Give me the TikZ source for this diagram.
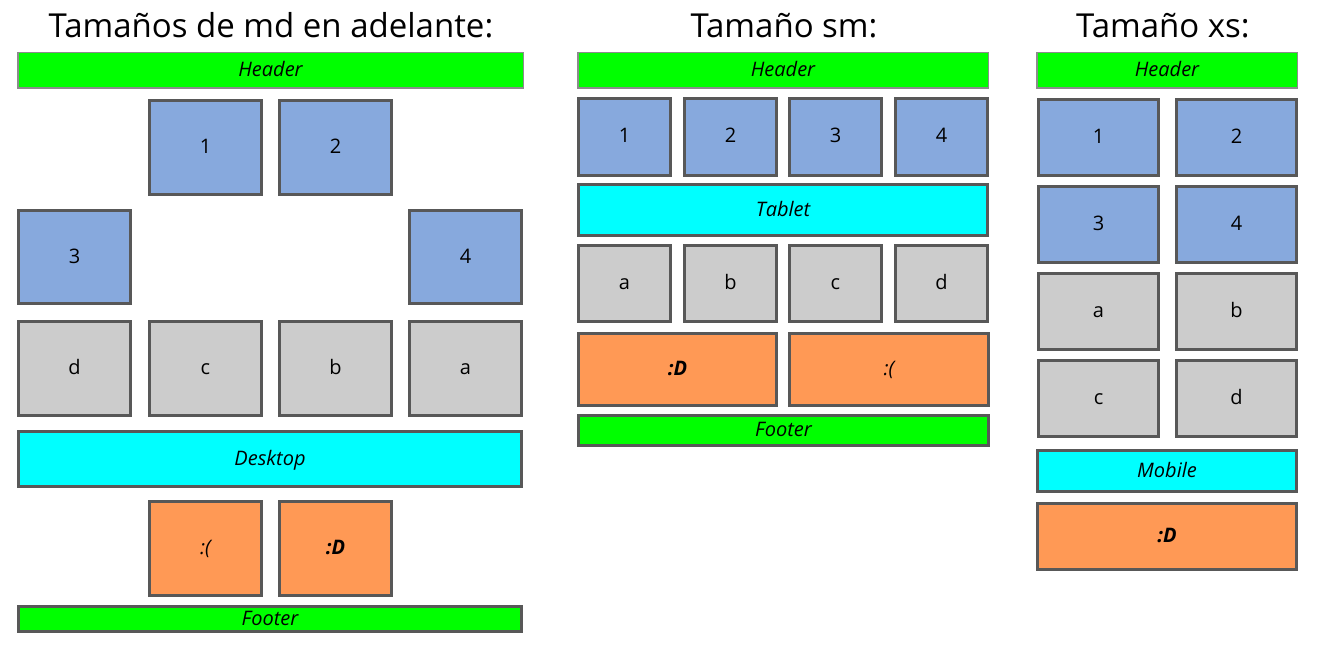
\documentclass[tikz,border=0pt]{standalone}
\usepackage{fontspec}
\setmainfont{Open Sans}
\definecolor{hdgreen}{RGB}{0,255,0}
\definecolor{hdline}{RGB}{140,140,140}
\definecolor{bxline}{RGB}{88,88,88}
\definecolor{bxblue}{RGB}{135,169,221}
\definecolor{bxgrey}{RGB}{204,204,204}
\definecolor{bxorange}{RGB}{255,153,85}
\definecolor{bxcyan}{RGB}{0,255,255}
\begin{document}
\begin{tikzpicture}[x=1pt, y=1pt, yscale=-1, inner sep=0pt, outer sep=0pt,
  coltitle/.style={anchor=base, font=\fontsize{33}{36}\selectfont},
  hdbox/.style={draw=hdline, fill=hdgreen, line width=1.5pt, text height=15pt, text depth=3pt,
    font=\fontsize{20}{22}\selectfont\itshape},
  cell/.style={draw=bxline, line width=3pt, text height=15pt, text depth=3pt,
    font=\fontsize{20}{22}\selectfont},
  bluecell/.style={cell, fill=bxblue},
  greycell/.style={cell, fill=bxgrey},
  orangecell/.style={cell, fill=bxorange, font=\fontsize{20}{22}\selectfont\itshape},
  bandcell/.style={cell, fill=bxcyan, font=\fontsize{20}{22}\selectfont\itshape},
  footcell/.style={cell, fill=hdgreen, font=\fontsize{20}{22}\selectfont\itshape},
  sz/.style 2 args={minimum width=#1pt, minimum height=#2pt}]
\useasboundingbox (0,0) rectangle (1326,650);

  \node[coltitle] (mdtitle) at (271,38) {Tamaños de md en adelante:};
  \node[hdbox, sz={505.5}{35.5}] (mdheader) at (270.5,70.5) {Header};
  \node[bluecell, sz={112}{94}] (mdone) at (205.5,147.5) {1};
  \node[bluecell, sz={112}{94}] (mdtwo) at (335.5,147.5) {2};
  \node[bluecell, sz={112}{93}] (mdthree) at (74.5,257) {3};
  \node[bluecell, sz={112}{93}] (mdfour) at (465.5,257) {4};
  \node[greycell, sz={112}{94}] (mdd) at (74.5,368.5) {d};
  \node[greycell, sz={112}{94}] (mdc) at (205.5,368.5) {c};
  \node[greycell, sz={112}{94}] (mdb) at (335.5,368.5) {b};
  \node[greycell, sz={112}{94}] (mda) at (465.5,368.5) {a};
  \node[bandcell, sz={503}{55}] (mddesktop) at (270,459) {Desktop};
  \node[orangecell, sz={112}{94}] (mdsad) at (205.5,548.5) {:(};
  \node[orangecell, sz={112}{94}] (mdhappy) at (335.5,548.5) {\bfseries :D};
  \node[footcell, sz={503}{25}] (mdfooter) at (270,619) {Footer};

  \node[coltitle] (smtitle) at (784,38) {Tamaño sm:};
  \node[hdbox, sz={410.5}{35.5}] (smheader) at (783,70.5) {Header};
  \node[bluecell, sz={92}{77}] (smone) at (624.5,137) {1};
  \node[bluecell, sz={92}{77}] (smtwo) at (730.5,137) {2};
  \node[bluecell, sz={92}{77}] (smthree) at (835.5,137) {3};
  \node[bluecell, sz={92}{77}] (smfour) at (941.5,137) {4};
  \node[bandcell, sz={409}{51}] (smtablet) at (783,210) {Tablet};
  \node[greycell, sz={92}{76}] (sma) at (624.5,283.5) {a};
  \node[greycell, sz={92}{76}] (smb) at (730.5,283.5) {b};
  \node[greycell, sz={92}{76}] (smc) at (835.5,283.5) {c};
  \node[greycell, sz={92}{76}] (smd) at (941.5,283.5) {d};
  \node[orangecell, sz={198}{72}] (smhappy) at (677.5,369.5) {\bfseries :D};
  \node[orangecell, sz={199}{72}] (smsad) at (889,369.5) {:(};
  \node[footcell, sz={410}{30}] (smfooter) at (783.5,430.5) {Footer};

  \node[coltitle] (xstitle) at (1163,38) {Tamaño xs:};
  \node[hdbox, sz={260.5}{35.5}] (xsheader) at (1167,70.5) {Header};
  \node[bluecell, sz={120}{76}] (xsone) at (1098.5,137.5) {1};
  \node[bluecell, sz={120}{76}] (xstwo) at (1236.5,137.5) {2};
  \node[bluecell, sz={120}{76}] (xsthree) at (1098.5,224.5) {3};
  \node[bluecell, sz={120}{76}] (xsfour) at (1236.5,224.5) {4};
  \node[greycell, sz={120}{76}] (xsa) at (1098.5,311.5) {a};
  \node[greycell, sz={120}{76}] (xsb) at (1236.5,311.5) {b};
  \node[greycell, sz={120}{76}] (xsc) at (1098.5,398.5) {c};
  \node[greycell, sz={120}{76}] (xsd) at (1236.5,398.5) {d};
  \node[bandcell, sz={259}{41}] (xsmobile) at (1167,471) {Mobile};
  \node[orangecell, sz={259}{66}] (xshappy) at (1167,536.5) {\bfseries :D};
\end{tikzpicture}
\end{document}
